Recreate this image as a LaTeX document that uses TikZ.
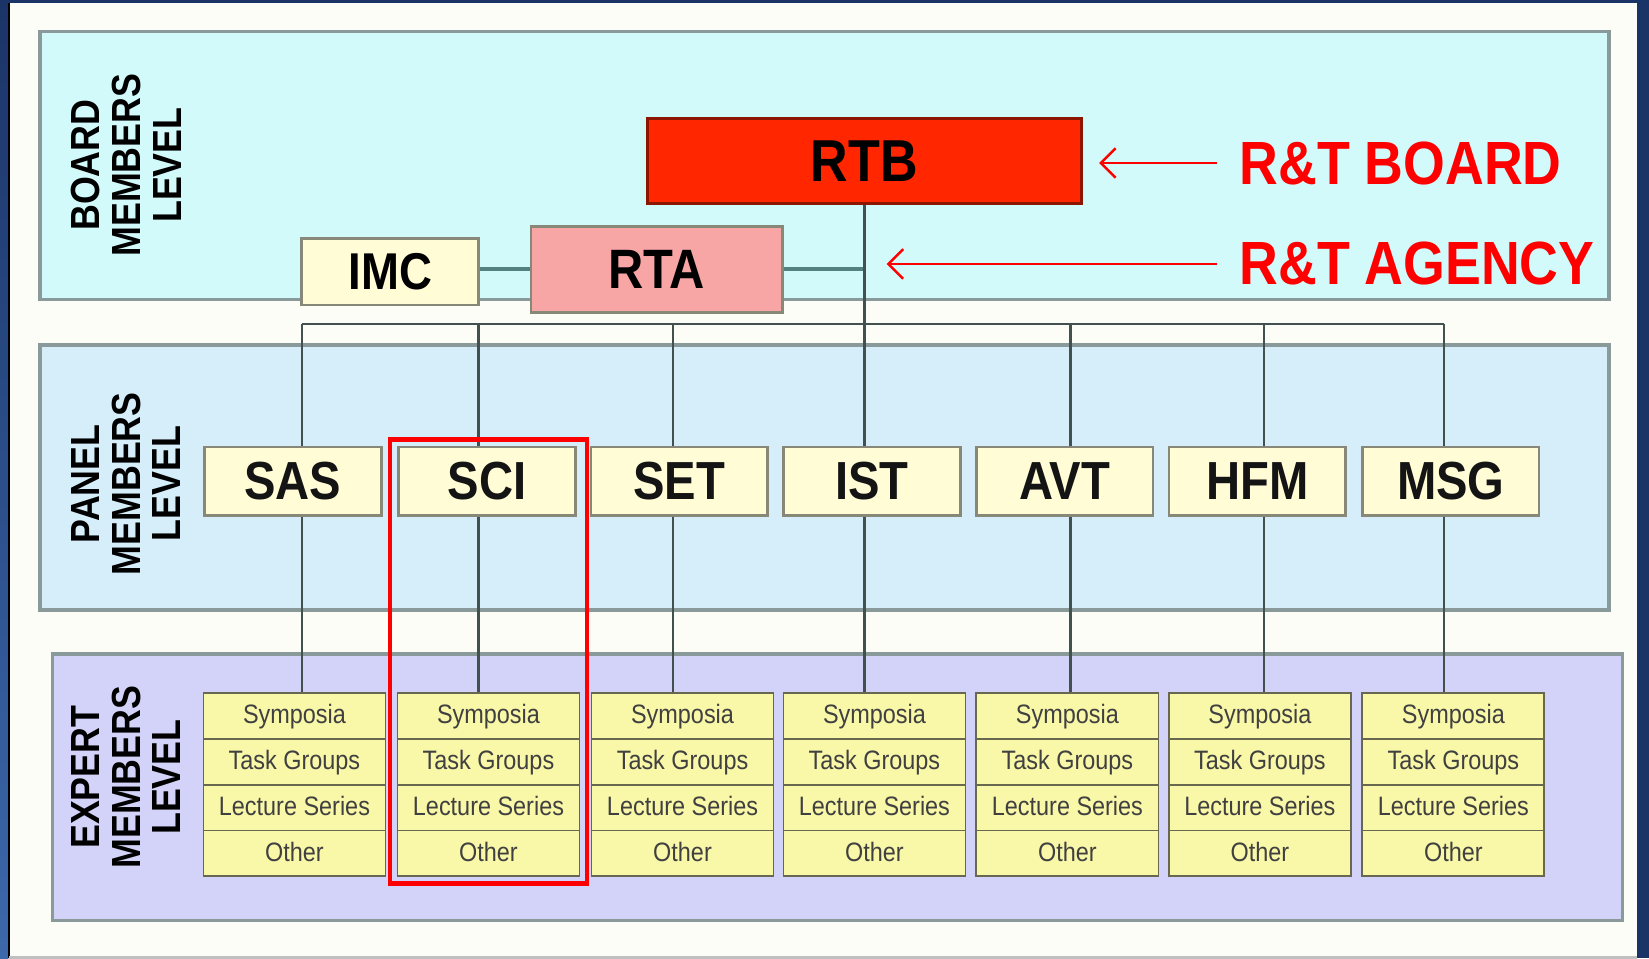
\documentclass[tikz,border=0pt]{standalone}
\usepackage{fontspec}
\setmainfont{Liberation Sans}[FakeStretch=0.88]
\definecolor{framenavy}{RGB}{27, 52, 104}
\definecolor{framelight}{RGB}{60, 104, 172}
\definecolor{paper}{RGB}{253, 253, 248}
\definecolor{boardcyan}{RGB}{211, 250, 250}
\definecolor{panelblue}{RGB}{213, 238, 250}
\definecolor{expertlilac}{RGB}{211, 211, 250}
\definecolor{bandgray}{RGB}{138, 154, 154}
\definecolor{cream}{RGB}{255, 252, 214}
\definecolor{cellyellow}{RGB}{249, 247, 168}
\definecolor{cellline}{RGB}{104, 104, 80}
\definecolor{boxgray}{RGB}{136, 136, 120}
\definecolor{rtbred}{RGB}{255, 38, 0}
\definecolor{rtapink}{RGB}{247, 165, 165}
\definecolor{wiregray}{RGB}{66, 80, 80}
\definecolor{linkteal}{RGB}{84, 128, 128}
\definecolor{notered}{RGB}{255, 0, 0}
\usepackage{tikz}
\usetikzlibrary{shapes.multipart, arrows.meta, fit}
\newcommand{\cellstrut}{\rule[-2pt]{0pt}{8.2pt}}

\begin{document}
\begin{tikzpicture}[x=0.01cm, y=-0.01cm,
  band/.style={draw=bandgray, line width=0.9pt},
  level/.style={rotate=90, align=center, font=\fontsize{11}{11}\selectfont\bfseries},
  board/.style={draw=boxgray, line width=0.8pt, font=\fontsize{15}{15}\selectfont\bfseries},
  panel/.style={draw=boxgray, fill=cream, line width=0.7pt, minimum width=1.68cm, minimum height=0.65cm, font=\fontsize{14.5}{15}\selectfont\bfseries, text=black!92},
  expert/.style={rectangle split, rectangle split parts=4, draw=cellline, fill=cellyellow, line width=0.5pt, minimum width=1.73cm, inner ysep=1.85pt, font=\fontsize{7.2}{8}\selectfont, text=black!75, anchor=north},
  wire/.style={draw=wiregray, line width=0.6pt},
  link/.style={draw=linkteal, line width=1pt},
  note/.style={text=notered, font=\fontsize{16.5}{17}\selectfont\bfseries, anchor=west, inner sep=2pt},
  pointer/.style={draw=notered, line width=0.7pt, -{Straight Barb[length=4pt, width=8pt]}},
  hilite/.style={draw=notered, line width=1.2pt, inner sep=0.06cm}]
  \useasboundingbox (0,0) rectangle (1568,911);
  \fill[framenavy] (0,0) rectangle (1568,911);
  \shade[top color=framenavy, bottom color=framelight] (0,0) rectangle (8,911);
  \fill[paper] (9,3) rectangle (1557,911);
  \draw[black, line width=0.5pt] (8.5,3) -- (8.5,911);
  \draw[gray!50, line width=0.8pt] (9,910) -- (1557,910);

  \draw[band, fill=boardcyan] (38,30) rectangle (1530,285);
  \draw[band, fill=panelblue] (38,328) rectangle (1530,580);
  \draw[band, fill=expertlilac] (50,622) rectangle (1543,875);

  \node[level] (board-lvl) at (120,157) {BOARD\\MEMBERS\\LEVEL};
  \node[level] (panel-lvl) at (120,460) {PANEL\\MEMBERS\\LEVEL};
  \node[level] (expert-lvl) at (120,739) {EXPERT\\MEMBERS\\LEVEL};

  \node[board, fill=rtbred, draw=rtbred!55!black, minimum width=4.13cm, minimum height=0.81cm, font=\fontsize{16}{16}\selectfont\bfseries] (rtb) at (822,153) {RTB};
  \node[board, fill=rtapink, minimum width=2.39cm, minimum height=0.82cm] (rta) at (624.5,256) {RTA};
  \node[board, fill=cream, minimum width=1.68cm, minimum height=0.63cm, font=\fontsize{14}{14}\selectfont\bfseries] (imc) at (371,258.5) {IMC};

  \foreach \name/\cx in {sas/280, sci/464.5, set/649, ist/831.5, avt/1015, hfm/1198, msg/1382}
    \node[expert] (\name-x) at (\cx,658) {\cellstrut Symposia\nodepart{two}\cellstrut Task Groups\nodepart{three}\cellstrut Lecture Series\nodepart{four}\cellstrut Other};

  \foreach \name/\dx in {sas/287, sci/455, set/640, ist/822, avt/1018, hfm/1202, msg/1373}
    \coordinate (drop-\name) at (\dx,308);

  \draw[link] (rta.west) -- (rta.west -| imc.east);
  \draw[link] (rta.east) -- (rta.east -| rtb.south);
  \draw[wire] (rtb.south) -- (drop-ist);
  \draw[wire] (drop-sas) -- (drop-msg);
  \foreach \name in {sas, sci, set, ist, avt, hfm, msg}
    \draw[wire] (drop-\name) -- (drop-\name |- \name-x.north);

  \foreach \name/\txt/\cx in {sas/SAS/278.5, sci/SCI/463, set/SET/646, ist/IST/829, avt/AVT/1012.5, hfm/HFM/1195.5, msg/MSG/1379.5}
    \node[panel] (\name) at (\cx,457.5) {\txt};

  \node[hilite, fit=(sci)(sci-x)] (focus) {};

  \node[note] (board-note) at (1171,155) {R\&T BOARD};
  \node[note] (agency-note) at (1171,251) {R\&T AGENCY};
  \draw[pointer, shorten <=4pt, shorten >=0.15cm] (board-note.west) -- (board-note.west -| rtb.east);
  \draw[pointer, shorten <=4pt, shorten >=0.21cm] (agency-note.west) -- (agency-note.west -| rtb.south);
\end{tikzpicture}
\end{document}
